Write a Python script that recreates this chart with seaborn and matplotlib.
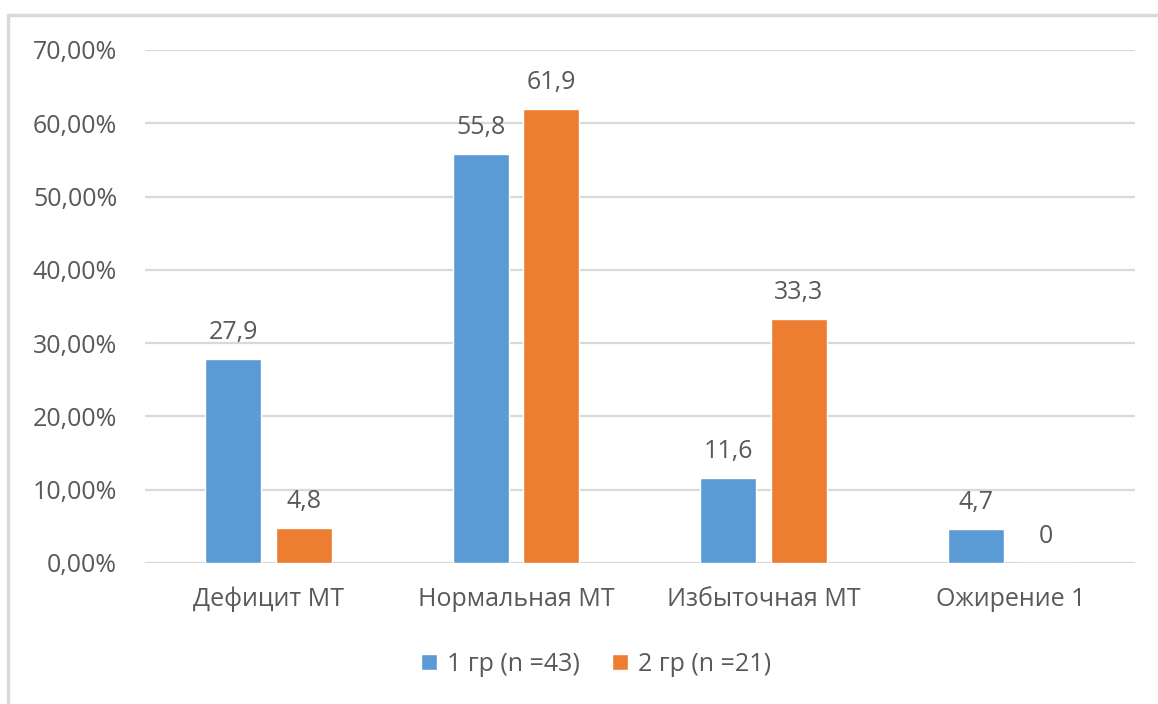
import matplotlib
matplotlib.use("Agg")
import matplotlib.pyplot as plt
from matplotlib.lines import Line2D
from matplotlib.ticker import FixedLocator, FuncFormatter
import seaborn as sns
import pandas as pd

categories = ["Дефицит МТ", "Нормальная МТ", "Избыточная МТ", "Ожирение 1"]
group_names = ["1 гр (n =43)", "2 гр (n =21)"]
group1 = [27.9, 55.8, 11.6, 4.7]
group2 = [4.8, 61.9, 33.3, 0.0]
y_ticks = [0, 10, 20, 30, 40, 50, 60, 70]

colors = ["#5B9BD5", "#ED7D31"]
text_color = "#595959"
grid_color = "#D9D9D9"
font_size = 18

df = pd.DataFrame({
    "category": categories * 2,
    "group": [group_names[0]] * 4 + [group_names[1]] * 4,
    "value": group1 + group2,
})

sns.set_theme(style="white")
plt.rcParams["font.family"] = ["Open Sans", "DejaVu Sans"]

fig = plt.figure(figsize=(11.58, 7.04), dpi=100)
ax = fig.add_axes([0.1252, 0.2003, 0.8548, 0.7287])

sns.barplot(data=df, x="category", y="value", hue="group", order=categories,
            hue_order=group_names, palette=colors, width=0.57, gap=0.207,
            saturation=1, ax=ax, zorder=3)

ax.set_ylim(0, 70)
ax.set_xlim(-0.5, 3.5)
ax.yaxis.set_major_locator(FixedLocator(y_ticks))
ax.yaxis.set_major_formatter(FuncFormatter(lambda v, _: f"{v:.2f}".replace(".", ",") + "%"))
ax.grid(axis="y", color=grid_color, linewidth=1.6, zorder=0)
for s in ax.spines.values():
    s.set_visible(False)
ax.tick_params(axis="both", length=0, labelsize=font_size, labelcolor=text_color)
ax.tick_params(axis="y", pad=20)
ax.tick_params(axis="x", pad=17)
ax.set_xlabel("")
ax.set_ylabel("")

# value labels above each bar
for container in ax.containers:
    labels = [f"{v:g}".replace(".", ",") for v in container.datavalues]
    ax.bar_label(container, labels=labels, padding=10, fontsize=font_size, color=text_color)

leg = ax.legend(loc="center", bbox_to_anchor=(0.4556, -0.197), ncol=2, frameon=False,
                fontsize=font_size, handlelength=0.62, handleheight=0.62, handletextpad=0.4,
                columnspacing=1.3)
for t in leg.get_texts():
    t.set_color(text_color)

# chart frame lines along the top and left edges
fig.add_artist(Line2D([8 / 1158, 1.0], [1 - 14.5 / 704] * 2, color=grid_color, linewidth=2.5,
                      transform=fig.transFigure))
fig.add_artist(Line2D([8 / 1158] * 2, [0, 1 - 14.5 / 704], color=grid_color, linewidth=2.5,
                      transform=fig.transFigure))

fig.savefig("out.png", dpi=100, facecolor="white")
